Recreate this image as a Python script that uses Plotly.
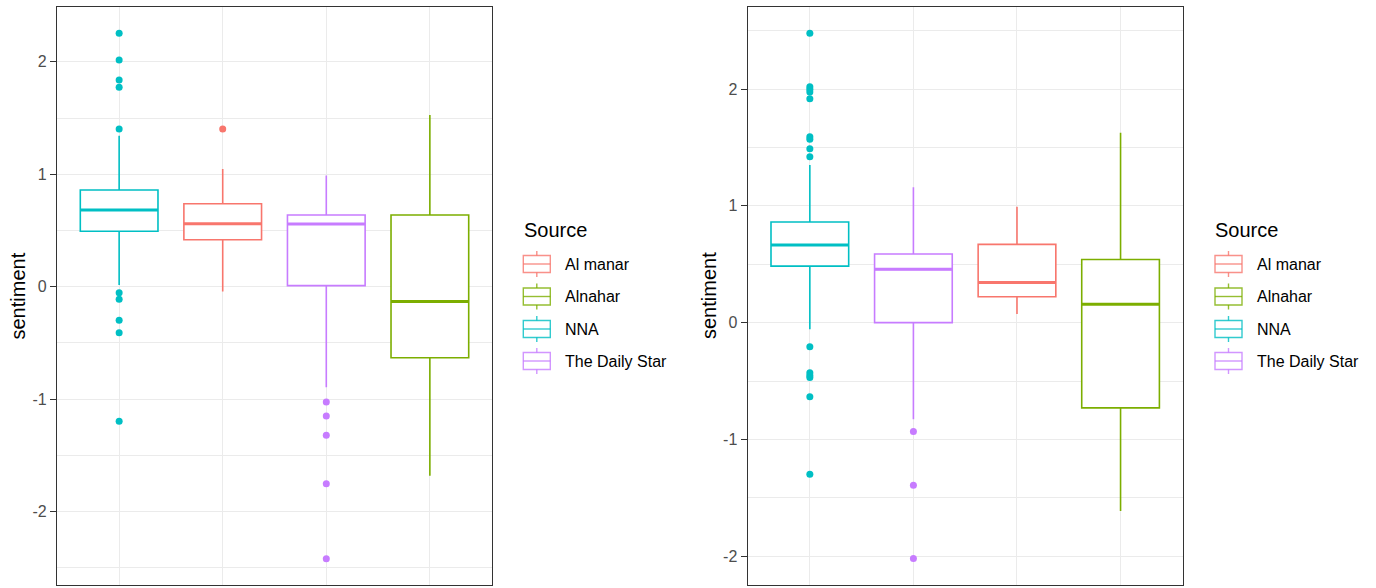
import plotly.graph_objects as go

# ---- data -------------------------------------------------------------
LEGEND_SOURCES = ["Al manar", "Alnahar", "NNA", "The Daily Star"]
SOURCE_COLORS = {"Al manar": "#F8766D", "Alnahar": "#7CAE00",
                 "NNA": "#00BFC4", "The Daily Star": "#C77CFF"}

# left panel
LEFT_SOURCES = ["NNA", "Al manar", "The Daily Star", "Alnahar"]
LEFT_LOWER = [0.015, -0.044, -0.895, -1.681]
LEFT_Q1 = [0.493, 0.418, 0.009, -0.632]
LEFT_MEDIAN = [0.682, 0.560, 0.558, -0.133]
LEFT_Q3 = [0.860, 0.738, 0.638, 0.638]
LEFT_UPPER = [1.343, 1.047, 0.988, 1.528]
LEFT_OUTLIERS = [
    [2.254, 2.017, 1.839, 1.774, 1.403, -0.053, -0.112, -0.299, -0.409, -1.198],
    [1.403],
    [-1.026, -1.150, -1.322, -1.753, -2.420],
    [],
]

# right panel
RIGHT_SOURCES = ["NNA", "The Daily Star", "Al manar", "Alnahar"]
RIGHT_LOWER = [-0.056, -0.827, 0.073, -1.612]
RIGHT_Q1 = [0.484, 0.000, 0.221, -0.730]
RIGHT_MEDIAN = [0.664, 0.456, 0.344, 0.158]
RIGHT_Q3 = [0.861, 0.587, 0.670, 0.541]
RIGHT_UPPER = [1.349, 1.158, 0.992, 1.626]
RIGHT_OUTLIERS = [
    [2.477, 2.020, 1.997, 1.974, 1.917, 1.591, 1.569, 1.489, 1.420,
     -0.207, -0.430, -0.452, -0.470, -0.635, -1.298],
    [-0.932, -1.392, -2.020],
    [],
    [],
]

Y_TICKS = [-2, -1, 0, 1, 2]
Y_TICK_TEXT = ["-2", "-1", "0", "1", "2"]
Y_MINOR = [-2.5, -1.5, -0.5, 0.5, 1.5, 2.5]

# ---- style ------------------------------------------------------------
W, H = 1376, 588
FONT = "Liberation Sans, Arial, sans-serif"
BOX_WIDTH = 0.75
GRID = "#EBEBEB"
BORDER = "#333333"


def px_x(x):
    return x / W


def px_y(y):
    return 1 - y / H


fig = go.Figure()


def add_panel(xa, ya, sources, lower, q1, med, q3, upper, outliers):
    xref = "x" if xa == "xaxis" else "x2"
    yref = "y" if ya == "yaxis" else "y2"
    for i, src in enumerate(sources):
        pos = i + 1
        col = SOURCE_COLORS[src]
        fig.add_trace(go.Box(
            x=[pos], q1=[q1[i]], median=[med[i]], q3=[q3[i]],
            lowerfence=[lower[i]], upperfence=[upper[i]],
            width=BOX_WIDTH, whiskerwidth=0, fillcolor="white",
            line=dict(color=col, width=1.6), boxpoints=False,
            name=src, showlegend=False, xaxis=xref, yaxis=yref,
        ))
        # thicker median bar
        fig.add_trace(go.Scatter(
            x=[pos - BOX_WIDTH / 2, pos + BOX_WIDTH / 2], y=[med[i], med[i]],
            mode="lines", line=dict(color=col, width=3),
            showlegend=False, hoverinfo="skip", xaxis=xref, yaxis=yref,
        ))
        if outliers[i]:
            fig.add_trace(go.Scatter(
                x=[pos] * len(outliers[i]), y=outliers[i], mode="markers",
                marker=dict(color=col, size=7, line=dict(width=0)),
                showlegend=False, name=src, xaxis=xref, yaxis=yref,
            ))


add_panel("xaxis", "yaxis", LEFT_SOURCES, LEFT_LOWER, LEFT_Q1, LEFT_MEDIAN,
          LEFT_Q3, LEFT_UPPER, LEFT_OUTLIERS)
add_panel("xaxis2", "yaxis2", RIGHT_SOURCES, RIGHT_LOWER, RIGHT_Q1, RIGHT_MEDIAN,
          RIGHT_Q3, RIGHT_UPPER, RIGHT_OUTLIERS)


def x_axis(domain, anchor):
    return dict(
        domain=domain, anchor=anchor, range=[0.4, 4.6],
        tickmode="array", tickvals=[1, 2, 3, 4], showticklabels=False, ticks="",
        showgrid=True, gridcolor=GRID, gridwidth=1.2, zeroline=False,
        showline=True, mirror=True, linecolor=BORDER, linewidth=1.3,
    )


def y_axis(domain, anchor, rng):
    return dict(
        domain=domain, anchor=anchor, range=rng,
        tickmode="array", tickvals=Y_TICKS, ticktext=Y_TICK_TEXT,
        ticks="outside", ticklen=6, tickwidth=1.1, tickcolor=BORDER,
        tickfont=dict(family=FONT, size=16, color="#4D4D4D"),
        showgrid=True, gridcolor=GRID, gridwidth=1.2, zeroline=False,
        minor=dict(tickmode="array", tickvals=Y_MINOR, showgrid=True,
                   gridcolor=GRID, gridwidth=1.0, ticks=""),
        showline=True, mirror=True, linecolor=BORDER, linewidth=1.3,
    )


Y_DOMAIN = [px_y(585), px_y(7)]

fig.update_layout(
    width=W, height=H,
    margin=dict(l=0, r=0, t=0, b=0),
    paper_bgcolor="white", plot_bgcolor="white",
    font=dict(family=FONT, color="black"),
    xaxis=x_axis([px_x(57), px_x(492)], "y"),
    yaxis=y_axis(Y_DOMAIN, "x", [-2.654, 2.488]),
    xaxis2=x_axis([px_x(747.7), px_x(1182.7)], "y2"),
    yaxis2=y_axis(Y_DOMAIN, "x2", [-2.246, 2.702]),
    showlegend=False,
)

annotations = []
shapes = []

# y-axis titles
for xc in (17.5, 709):
    annotations.append(dict(
        text="sentiment", x=px_x(xc), y=px_y(296), xref="paper", yref="paper",
        xanchor="center", yanchor="middle", textangle=-90, showarrow=False,
        font=dict(family=FONT, size=20, color="black"),
    ))

# legends, drawn as ggplot-style keys
LEGEND_ROWS = [264, 296.5, 329, 361]
for title_x, key_x0 in ((521.7, 523.3), (1212.7, 1215)):
    annotations.append(dict(
        text="Source", x=px_x(title_x), y=px_y(230), xref="paper", yref="paper",
        xanchor="left", yanchor="middle", showarrow=False,
        font=dict(family=FONT, size=20, color="black"),
    ))
    key_x1 = key_x0 + 27
    kc = (key_x0 + key_x1) / 2
    for src, yc in zip(LEGEND_SOURCES, LEGEND_ROWS):
        col = SOURCE_COLORS[src]
        ln = dict(color=col, width=1.4)
        shapes.append(dict(type="rect", xref="paper", yref="paper",
                           x0=px_x(key_x0), x1=px_x(key_x1),
                           y0=px_y(yc - 8.5), y1=px_y(yc + 8.5),
                           line=ln, fillcolor="white", opacity=0.8))
        shapes.append(dict(type="line", xref="paper", yref="paper",
                           x0=px_x(key_x0), x1=px_x(key_x1),
                           y0=px_y(yc), y1=px_y(yc), line=ln, opacity=0.8))
        shapes.append(dict(type="line", xref="paper", yref="paper",
                           x0=px_x(kc), x1=px_x(kc),
                           y0=px_y(yc - 13), y1=px_y(yc - 8.5), line=ln, opacity=0.8))
        shapes.append(dict(type="line", xref="paper", yref="paper",
                           x0=px_x(kc), x1=px_x(kc),
                           y0=px_y(yc + 8.5), y1=px_y(yc + 13), line=ln, opacity=0.8))
        annotations.append(dict(
            text=src, x=px_x(key_x1 + 12.5), y=px_y(yc), xref="paper", yref="paper",
            xanchor="left", yanchor="middle", showarrow=False,
            font=dict(family=FONT, size=16, color="black"),
        ))

fig.update_layout(annotations=annotations, shapes=shapes)

fig.write_html("out.html")
